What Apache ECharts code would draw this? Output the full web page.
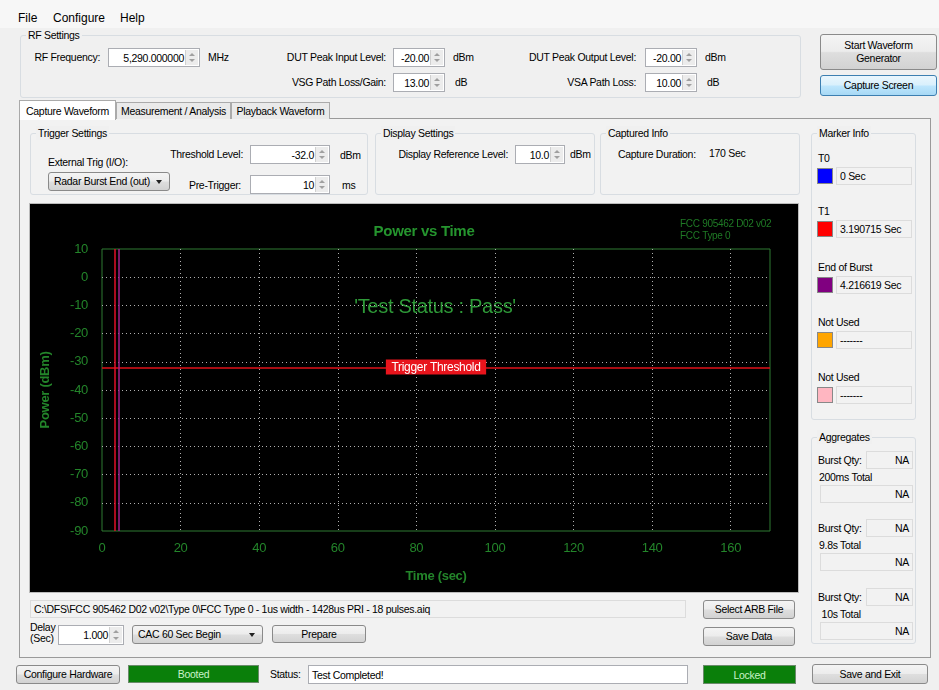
<!DOCTYPE html>
<html><head><meta charset="utf-8">
<script src="https://cdn.jsdelivr.net/npm/echarts@6/dist/echarts.min.js"></script>
<style>
body{margin:0;width:939px;height:690px;background:#f0f0f0;font-family:"Liberation Sans",Arial,sans-serif;font-size:10.5px;letter-spacing:-0.3px;color:#000;overflow:hidden;position:relative}
.a{position:absolute;white-space:nowrap;line-height:14px}
.grp{position:absolute;border:1px solid #d8dde2;border-radius:3px;box-sizing:border-box}
.grp>span{position:absolute;left:5px;top:-8px;background:#f0f0f0;padding:0 2px;line-height:14px;white-space:nowrap}
.box{position:absolute;background:#fff;border:1px solid #abadb3;box-sizing:border-box;white-space:nowrap;display:flex;align-items:center;overflow:hidden}
.ro{background:#f2f2f2;border:1px solid #dcdcdc}
.btn{position:absolute;box-sizing:border-box;border:1px solid #8a8a8a;border-radius:3px;background:linear-gradient(#f4f4f4,#ececec 48%,#dedede 52%,#d2d2d2);text-align:center;display:flex;align-items:center;justify-content:center;line-height:13px}
.blue{border-color:#3c7fb1;background:linear-gradient(#eaf6fd,#d9f0fc 48%,#bee6fd 52%,#a7d9f5)}
.green{position:absolute;box-sizing:border-box;background:#0a7f0a;border:1px solid #6a8a6a;color:#c9f2c9;display:flex;align-items:center;justify-content:center}
.spin{position:absolute;right:1px;top:1px;bottom:1px;width:12px;background:#ececec;border-left:1px solid #d0d0d0}
.spin:before,.spin:after{content:"";position:absolute;left:3px;border-left:3px solid transparent;border-right:3px solid transparent}
.spin:before{top:3px;border-bottom:3px solid #a0a0a0}
.spin:after{bottom:3px;border-top:3px solid #a0a0a0}
.tab{position:absolute;box-sizing:border-box;border:1px solid #aaa;border-bottom:none;background:#eaeaea;display:flex;align-items:center;justify-content:center;white-space:nowrap}
.sel{background:#fff;z-index:2}
.arrow{position:absolute;right:7px;top:50%;margin-top:-2px;border-left:3.5px solid transparent;border-right:3.5px solid transparent;border-top:4px solid #222}
.menu{font-size:12px;letter-spacing:0}
</style>
</head><body>
<div id="ui"></div>
<div id="chart" style="position:absolute;left:30px;top:204px;width:768px;height:388px;"></div>
<script>
// ---- chart data ----
const timeRange = [0, 170];          // seconds (Capture Duration: 170 Sec)
const powerRange = [-90, 10];        // dBm
const timeStep = 20;
const powerStep = 10;
const thresholdLevel = -32;          // Trigger Threshold (dBm)
const markerNames = ['T0', 'T1', 'End of Burst'];
const markerTimes = [0, 3.190715, 4.216619];
const powerTrace = [];               // no visible trace inside the display range

// ---- UI builder ----
const ui = document.getElementById('ui');
function mk(cls, x, y, w, h, html, extra) {
  const d = document.createElement('div');
  d.className = cls;
  d.style.left = x + 'px'; d.style.top = y + 'px';
  if (w != null) d.style.width = w + 'px';
  if (h != null) d.style.height = h + 'px';
  if (html != null) d.innerHTML = html;
  if (extra) d.style.cssText += extra;
  ui.appendChild(d);
  return d;
}
function L(x, y, t, r, extra) {
  const d = document.createElement('div');
  d.className = 'a';
  d.style.top = (y - 7) + 'px';
  if (r) d.style.right = (939 - x) + 'px'; else d.style.left = x + 'px';
  d.textContent = t;
  if (extra) d.style.cssText += extra;
  ui.appendChild(d);
  return d;
}
function grp(x, y, w, h, t) { mk('grp', x, y, w, h, '<span>' + t + '</span>'); }
function spin(x, y, w, h, v) {
  mk('box', x, y, w, h, '<span style="flex:1;text-align:right;padding-right:15px">' + v + '</span><div class="spin"></div>');
}
function tbox(x, y, w, h, v, align, ro) {
  mk('box' + (ro ? ' ro' : ''), x, y, w, h, '<span style="flex:1;text-align:' + (align || 'left') + ';padding:0 3px">' + v + '</span>');
}
function btn(x, y, w, h, t, blue) { mk('btn' + (blue ? ' blue' : ''), x, y, w, h, t); }
function combo(x, y, w, h, t) { mk('btn', x, y, w, h, '<span style="position:absolute;left:5px;white-space:nowrap">' + t + '</span><div class="arrow"></div>'); }

// menu
mk('a', 0, 0, 939, 28, '', 'background:#f7f7f7');
L(18, 18, 'File').className = 'a menu';
L(53, 18, 'Configure').className = 'a menu';
L(120, 18, 'Help').className = 'a menu';

// RF settings
grp(20, 35, 781, 63, 'RF Settings');
L(100, 57, 'RF Frequency:', 1); spin(108, 48, 92, 19, '5,290.000000'); L(208, 57, 'MHz');
L(386, 57, 'DUT Peak Input Level:', 1); spin(393, 48, 52, 19, '-20.00'); L(453, 57, 'dBm');
L(386, 82, 'VSG Path Loss/Gain:', 1); spin(393, 73, 52, 19, '13.00'); L(455, 82, 'dB');
L(636, 57, 'DUT Peak Output Level:', 1); spin(645, 48, 52, 19, '-20.00'); L(705, 57, 'dBm');
L(636, 82, 'VSA Path Loss:', 1); spin(645, 73, 52, 19, '10.00'); L(707, 82, 'dB');
btn(820, 34, 117, 36, 'Start Waveform<br>Generator');
btn(820, 75, 117, 21, 'Capture Screen', true);

// tabs
mk('a', 19, 118, 912, 540, '', 'border:1px solid #9a9a9a;box-sizing:border-box;background:#f2f2f2');
mk('tab sel', 19, 100, 97, 20, 'Capture Waveform');
mk('tab', 116, 102, 115, 17, 'Measurement / Analysis');
mk('tab', 231, 102, 99, 17, 'Playback Waveform');

// trigger settings
grp(30, 133, 338, 62, 'Trigger Settings');
L(243, 154, 'Threshold Level:', 1); spin(250, 145, 80, 19, '-32.0'); L(340, 155, 'dBm');
L(48, 162, 'External Trig (I/O):');
combo(48, 172, 122, 19, 'Radar Burst End (out)');
L(241, 185, 'Pre-Trigger:', 1); spin(250, 175, 80, 19, '10'); L(342, 185, 'ms');
grp(375, 133, 220, 62, 'Display Settings');
L(508, 154, 'Display Reference Level:', 1); spin(515, 145, 50, 19, '10.0'); L(570, 154, 'dBm');
grp(600, 133, 200, 62, 'Captured Info');
L(618, 154, 'Capture Duration:'); L(709, 153, '170 Sec');

// marker info
grp(811, 133, 105, 287, 'Marker Info');
const mRows = [[158, 'T0', '#0000ff', '0 Sec'], [211, 'T1', '#ff0000', '3.190715 Sec'],
  [267, 'End of Burst', '#800080', '4.216619 Sec'], [322, 'Not Used', '#ffa500', '-------'],
  [377, 'Not Used', '#ffb6c1', '-------']];
mRows.forEach(r => {
  L(818, r[0], r[1]);
  mk('a', 817, r[0] + 10, 16, 16, '', 'background:' + r[2] + ';border:1px solid #888;box-sizing:border-box');
  tbox(836, r[0] + 9, 76, 18, r[3], 'left', true);
});

// aggregates
grp(811, 437, 105, 207, 'Aggregates');
[[460, '200ms Total'], [528, '9.8s Total'], [597, ' 10s Total']].forEach(r => {
  L(818, r[0], 'Burst Qty:');
  tbox(866, r[0] - 9, 47, 18, 'NA', 'right', true);
  L(819, r[0] + 17, r[1], 0, 'white-space:pre');
  tbox(820, r[0] + 25, 93, 18, 'NA', 'right', true);
});

// below chart
mk('a', 29, 203, 770, 390, '', 'border:1px solid #bbb;box-sizing:border-box');
tbox(30, 600, 656, 18, 'C:\\DFS\\FCC 905462 D02 v02\\Type 0\\FCC Type 0 - 1us width - 1428us PRI - 18 pulses.aiq', 'left', true);
btn(703, 600, 92, 19, 'Select ARB File');
L(30, 629, 'Delay', 0, 'line-height:11px');
L(30, 640, '(Sec)', 0, 'line-height:11px');
spin(58, 625, 66, 20, '1.000');
combo(132, 625, 131, 19, 'CAC 60 Sec Begin');
btn(272, 625, 94, 18, 'Prepare');
btn(703, 627, 92, 19, 'Save Data');

// status bar
btn(16, 665, 104, 19, 'Configure Hardware');
mk('green', 128, 665, 131, 18, 'Booted');
L(270, 674, 'Status:');
tbox(308, 665, 380, 19, 'Test Completed!');
mk('green', 703, 665, 93, 19, 'Locked');
btn(812, 664, 116, 20, 'Save and Exit');

// ---- chart ----
const chart = echarts.init(document.getElementById('chart'));
const markerColors = ['#2030ff', '#e0102a', '#a0208a'];
const green = '#23852a';
chart.setOption({
  backgroundColor: '#000',
  animation: false,
  title: {
    text: 'Power vs Time', left: 389, top: 15, textAlign: 'center',
    textStyle: { color: '#25952e', fontSize: 15, fontWeight: 'bold', fontFamily: 'Liberation Sans' }
  },
  graphic: [
    { type: 'text', left: 650, top: 14, style: { text: 'FCC 905462 D02 v02\nFCC Type 0', fill: '#1f7a25', font: '10px "Liberation Sans"', lineHeight: 12 } },
    { type: 'text', x: 405, y: 103, style: { text: "'Test Status : Pass'", fill: '#2e9a38', font: '20px "Liberation Sans"', textAlign: 'center', textVerticalAlign: 'middle' } }
  ],
  grid: { left: 72, top: 45, right: 28, bottom: 61, show: true, borderColor: '#2f7a33', borderWidth: 1, backgroundColor: 'transparent' },
  xAxis: {
    type: 'value', min: timeRange[0], max: timeRange[1], interval: timeStep,
    name: 'Time (sec)', nameLocation: 'middle', nameGap: 39,
    nameTextStyle: { color: green, fontSize: 13, fontWeight: 'bold', fontFamily: 'Liberation Sans' },
    axisLine: { show: false }, axisTick: { show: false },
    axisLabel: { color: green, fontSize: 13, margin: 11, showMaxLabel: false, fontFamily: 'Liberation Sans' },
    splitLine: { show: true, showMinLine: false, showMaxLine: false, lineStyle: { color: '#b0b0b0', type: [1, 3], width: 1 } }
  },
  yAxis: {
    type: 'value', min: powerRange[0], max: powerRange[1], interval: powerStep,
    name: 'Power (dBm)', nameLocation: 'middle', nameGap: 50, nameRotate: 90,
    nameTextStyle: { color: green, fontSize: 13, fontWeight: 'bold', fontFamily: 'Liberation Sans' },
    axisLine: { show: false }, axisTick: { show: false },
    axisLabel: { color: green, fontSize: 13, margin: 14, fontFamily: 'Liberation Sans' },
    splitLine: { show: true, showMinLine: false, showMaxLine: false, lineStyle: { color: '#b0b0b0', type: [1, 3], width: 1 } }
  },
  series: [{
    type: 'line', data: powerTrace, showSymbol: false, silent: true,
    lineStyle: { color: '#ffff00' },
    markLine: {
      silent: true, symbol: ['none', 'none'], animation: false,
      data: [
        { yAxis: thresholdLevel, lineStyle: { color: '#e01018', width: 1.5, type: 'solid' },
          label: { show: true, position: 'middle', formatter: 'Trigger Threshold', distance: -7,
                   color: '#fff', backgroundColor: '#e8141c', padding: [2, 3, 1, 3], fontSize: 12, fontFamily: 'Liberation Sans' } }
      ].concat(markerTimes.map((t, i) => ({
        name: markerNames[i], xAxis: t,
        // T0 sits on the left plot border and is hidden there in the original display
        lineStyle: { color: markerColors[i], width: 1.5, type: 'solid', opacity: i === 0 ? 0 : 1 },
        label: { show: false }
      })))
    }
  }]
});
</script>
</body></html>
